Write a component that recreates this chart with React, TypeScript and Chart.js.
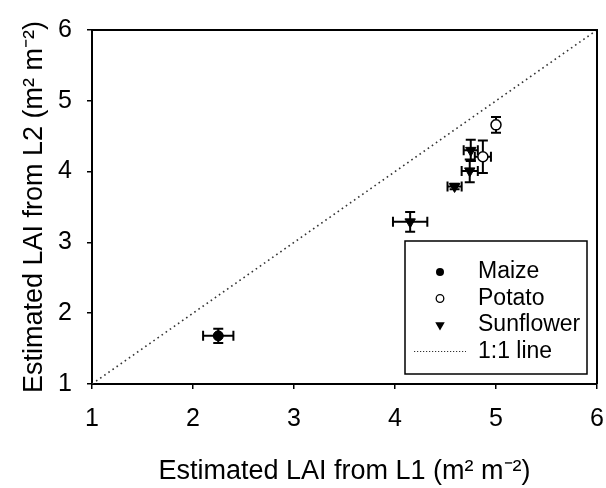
import React, { useEffect, useRef } from 'react';
import { Chart, registerables } from 'chart.js';

Chart.register(...registerables);

// ---- Data ----
const maizeX = [2.25];
const maizeY = [1.68];
const maizeXErr = [0.15];
const maizeYErr = [0.10];

const potatoX = [5.0, 4.87];
const potatoY = [4.66, 4.21];
const potatoXErr = [0.02, 0.08];
const potatoYErr = [0.11, 0.23];

const sunflowerX = [4.75, 4.74, 4.59, 4.15];
const sunflowerY = [4.30, 4.01, 3.79, 3.29];
const sunflowerXErr = [0.07, 0.08, 0.07, 0.17];
const sunflowerYErr = [0.15, 0.16, 0.04, 0.14];

const oneToOne = [1, 6];

const axisTicks = [1, 2, 3, 4, 5, 6];
const xTitle = 'Estimated LAI from L1 (m\u00B2 m\u207B\u00B2)';
const yTitle = 'Estimated LAI from L2 (m\u00B2 m\u207B\u00B2)';
const legendLabels = ['Maize', 'Potato', 'Sunflower', '1:1 line'];

const FONT = '"Liberation Sans", Arial, Helvetica, sans-serif';

const toPoints = (xs: number[], ys: number[]) => xs.map((x, i) => ({ x, y: ys[i] }));

const errorBarPlugin = {
  id: 'errorBars',
  beforeDatasetsDraw(chart: any) {
    const { ctx, scales } = chart;
    const xs = scales.x;
    const ys = scales.y;
    ctx.save();
    ctx.strokeStyle = '#000';
    ctx.lineWidth = 2;
    chart.data.datasets.forEach((ds: any) => {
      if (!ds.errX) return;
      ds.data.forEach((p: any, i: number) => {
        const px = xs.getPixelForValue(p.x);
        const py = ys.getPixelForValue(p.y);
        const ex = ds.errX[i];
        const ey = ds.errY[i];
        const cap = 5;
        if (ex > 0) {
          const x1 = xs.getPixelForValue(p.x - ex);
          const x2 = xs.getPixelForValue(p.x + ex);
          ctx.beginPath();
          ctx.moveTo(x1, py); ctx.lineTo(x2, py);
          ctx.moveTo(x1, py - cap); ctx.lineTo(x1, py + cap);
          ctx.moveTo(x2, py - cap); ctx.lineTo(x2, py + cap);
          ctx.stroke();
        }
        if (ey > 0) {
          const y1 = ys.getPixelForValue(p.y - ey);
          const y2 = ys.getPixelForValue(p.y + ey);
          ctx.beginPath();
          ctx.moveTo(px, y1); ctx.lineTo(px, y2);
          ctx.moveTo(px - cap, y1); ctx.lineTo(px + cap, y1);
          ctx.moveTo(px - cap, y2); ctx.lineTo(px + cap, y2);
          ctx.stroke();
        }
      });
    });
    ctx.restore();
  },
};

const frameAndLegendPlugin = {
  id: 'frameLegend',
  afterDraw(chart: any) {
    const { ctx, chartArea } = chart;
    ctx.save();
    // top and right frame lines
    ctx.strokeStyle = '#000';
    ctx.lineWidth = 2;
    ctx.beginPath();
    ctx.moveTo(chartArea.left, chartArea.top);
    ctx.lineTo(chartArea.right, chartArea.top);
    ctx.lineTo(chartArea.right, chartArea.bottom);
    ctx.stroke();

    // legend box
    const bx = 405, by = 241, bw = 182, bh = 133;
    ctx.lineWidth = 1.5;
    ctx.strokeStyle = '#000';
    ctx.fillStyle = '#fff';
    ctx.fillRect(bx, by, bw, bh);
    ctx.strokeRect(bx, by, bw, bh);

    const rowY = [272, 298.5, 325, 351.5];
    const markX = 440;
    const textX = 478;
    ctx.font = `23px ${FONT}`;
    ctx.textBaseline = 'middle';
    ctx.textAlign = 'left';
    legendLabels.forEach((label, i) => {
      const y = rowY[i];
      ctx.save();
      ctx.strokeStyle = '#000';
      ctx.fillStyle = '#000';
      if (i === 0) {
        ctx.beginPath(); ctx.arc(markX, y, 4, 0, Math.PI * 2); ctx.fill();
      } else if (i === 1) {
        ctx.lineWidth = 1.3;
        ctx.fillStyle = '#fff';
        ctx.beginPath(); ctx.arc(markX, y, 3.8, 0, Math.PI * 2); ctx.fill(); ctx.stroke();
      } else if (i === 2) {
        const r = 5.5;
        ctx.beginPath();
        ctx.moveTo(markX, y + r);
        ctx.lineTo(markX - r * 0.866, y - r * 0.5);
        ctx.lineTo(markX + r * 0.866, y - r * 0.5);
        ctx.closePath(); ctx.fill();
      } else {
        ctx.lineWidth = 1.2;
        ctx.strokeStyle = '#333';
        ctx.setLineDash([1.2, 1.8]);
        ctx.beginPath(); ctx.moveTo(414, y); ctx.lineTo(466, y); ctx.stroke();
      }
      ctx.restore();
      ctx.fillStyle = '#000';
      ctx.fillText(label, textX, y);
    });
    ctx.restore();
  },
};

export default function App() {
  const canvasRef = useRef<HTMLCanvasElement | null>(null);

  useEffect(() => {
    if (!canvasRef.current) return;
    const axisCommon = (title: string, isY: boolean) => ({
      type: 'linear' as const,
      min: 1,
      max: 6,
      afterBuildTicks: (scale: any) => {
        scale.ticks = axisTicks.map((v) => ({ value: v }));
      },
      afterFit: (scale: any) => {
        if (isY) {
          scale.width = 92;
          scale.paddingTop = 0;
          scale.paddingBottom = 0;
        } else {
          scale.height = 104;
          scale.paddingLeft = 0;
          scale.paddingRight = 0;
        }
      },
      grid: {
        display: true,
        drawOnChartArea: false,
        drawTicks: true,
        tickLength: 5,
        color: '#000',
        lineWidth: 1.5,
      },
      border: { display: true, color: '#000', width: 2 },
      ticks: {
        color: '#000',
        font: { family: FONT, size: 25 },
        padding: isY ? 15 : 15,
        maxRotation: 0,
        autoSkip: false,
      },
      title: {
        display: true,
        text: title,
        color: '#000',
        font: { family: FONT, size: 27, lineHeight: 1 },
        padding: isY ? { top: 21, bottom: 0 } : { top: 0, bottom: 3 },
      },
    });

    const chart = new Chart(canvasRef.current, {
      type: 'scatter',
      data: {
        datasets: [
          {
            label: '1:1 line',
            data: toPoints(oneToOne, oneToOne),
            showLine: true,
            borderColor: '#333',
            borderWidth: 1.6,
            borderDash: [1.6, 3.4],
            pointRadius: 0,
            fill: false,
          } as any,
          {
            label: 'Maize',
            data: toPoints(maizeX, maizeY),
            errX: maizeXErr,
            errY: maizeYErr,
            pointStyle: 'circle',
            pointRadius: 5,
            backgroundColor: '#000',
            borderColor: '#000',
            borderWidth: 1,
          } as any,
          {
            label: 'Potato',
            data: toPoints(potatoX, potatoY),
            errX: potatoXErr,
            errY: potatoYErr,
            pointStyle: 'circle',
            pointRadius: 5,
            backgroundColor: '#fff',
            borderColor: '#000',
            borderWidth: 1.5,
          } as any,
          {
            label: 'Sunflower',
            data: toPoints(sunflowerX, sunflowerY),
            errX: sunflowerXErr,
            errY: sunflowerYErr,
            pointStyle: 'triangle',
            rotation: 180,
            pointRadius: 6,
            backgroundColor: '#000',
            borderColor: '#000',
            borderWidth: 1,
          } as any,
        ],
      },
      options: {
        animation: false,
        responsive: true,
        maintainAspectRatio: false,
        layout: { padding: { top: 30, right: 9, left: 0, bottom: 0 } },
        plugins: {
          legend: { display: false },
          tooltip: { enabled: false },
        },
        scales: {
          x: axisCommon(xTitle, false),
          y: axisCommon(yTitle, true),
        },
      } as any,
      plugins: [errorBarPlugin, frameAndLegendPlugin],
    });
    return () => chart.destroy();
  }, []);

  return (
    <div style={{ position: 'fixed', left: 0, top: 0, width: 606, height: 488, background: '#fff' }}>
      <canvas ref={canvasRef} />
    </div>
  );
}
